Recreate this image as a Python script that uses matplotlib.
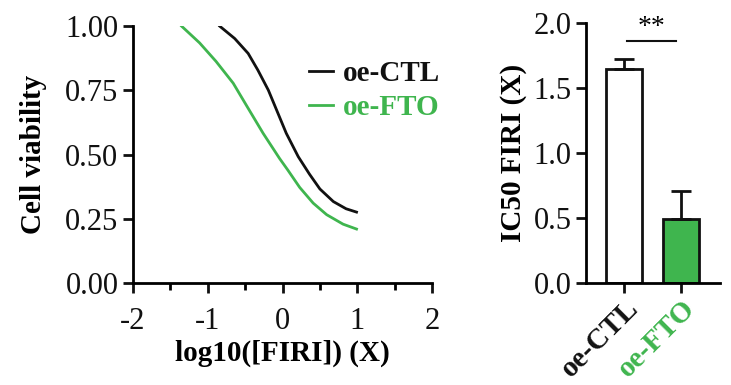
import matplotlib.pyplot as plt

plt.rcParams['font.family'] = ['Liberation Serif', 'DejaVu Serif']

# curve values
ctl_x = [-0.84, -0.64, -0.46, -0.33, -0.19, -0.08, 0.05, 0.21, 0.36, 0.50, 0.68, 0.85, 0.99]
ctl_y = [1.00, 0.952, 0.894, 0.829, 0.751, 0.674, 0.583, 0.492, 0.424, 0.366, 0.317, 0.289, 0.276]
fto_x = [-1.35, -1.11, -0.89, -0.66, -0.48, -0.26, -0.04, 0.07, 0.23, 0.41, 0.59, 0.81, 0.99]
fto_y = [1.00, 0.935, 0.863, 0.778, 0.690, 0.583, 0.485, 0.440, 0.372, 0.311, 0.266, 0.229, 0.210]

# IC50 bars
groups = ['oe-CTL', 'oe-FTO']
ic50 = [1.65, 0.495]
ic50_err = [0.07, 0.215]

green = '#3fb54e'
black = '#111111'

fig = plt.figure(figsize=(7.31, 3.85), dpi=100)

# left: viability curves
ax1 = fig.add_axes([0.182, 0.265, 0.409, 0.667])
ax1.plot(ctl_x, ctl_y, color=black, lw=2, label='oe-CTL')
ax1.plot(fto_x, fto_y, color=green, lw=2, label='oe-FTO')
ax1.set_xlim(-2, 2)
ax1.set_ylim(0, 1)
ax1.set_xticks([-2, -1, 0, 1, 2])
ax1.set_xticklabels(['-2', '-1', '0', '1', '2'])
ax1.set_xticks([-1.5, -0.5, 0.5, 1.5], minor=True)
ax1.set_yticks([0, 0.25, 0.5, 0.75, 1.0])
ax1.set_yticklabels(['0.00', '0.25', '0.50', '0.75', '1.00'])
ax1.set_xlabel('log10([FIRI]) (X)', fontsize=21, fontweight='bold', labelpad=3)
ax1.set_ylabel('Cell viability', fontsize=21, fontweight='bold', labelpad=13)
leg = ax1.legend(loc='upper right', bbox_to_anchor=(1.115, 0.97), frameon=False,
                 handlelength=0.8, handletextpad=0.35, labelspacing=0.25,
                 prop={'weight': 'bold', 'size': 21})
for txt, c in zip(leg.get_texts(), [black, green]):
    txt.set_color(c)

# right: IC50 bars
ax2 = fig.add_axes([0.802, 0.265, 0.183, 0.675])
ax2.bar([0, 1], ic50, width=0.63, color=['white', green], edgecolor=black, linewidth=2)
ax2.errorbar([0, 1], ic50, yerr=[[0, 0], ic50_err], fmt='none', ecolor=black,
             elinewidth=2, capsize=7, capthick=2)
ax2.plot([0.05, 0.9], [1.86, 1.86], color=black, lw=1.5)
ax2.text(0.475, 1.87, '**', ha='center', va='bottom', fontsize=20)
ax2.set_xlim(-0.67, 1.68)
ax2.set_ylim(0, 2)
ax2.set_yticks([0, 0.5, 1.0, 1.5, 2.0])
ax2.set_yticklabels(['0.0', '0.5', '1.0', '1.5', '2.0'])
ax2.set_xticks([0, 1])
ax2.set_xticklabels(groups, rotation=45, ha='right', rotation_mode='anchor',
                    fontweight='bold')
ax2.set_ylabel('IC50 FIRI (X)', fontsize=21, fontweight='bold', labelpad=5)

for ax in (ax1, ax2):
    for side in ('top', 'right'):
        ax.spines[side].set_visible(False)
    for side in ('left', 'bottom'):
        ax.spines[side].set_linewidth(2)
    ax.tick_params(which='major', direction='out', length=7, width=2,
                   labelsize=22, colors=black)
    ax.tick_params(which='minor', direction='out', length=5, width=2)

ax1.tick_params(axis='x', which='major', pad=10)
ax2.tick_params(axis='x', labelsize=21, pad=1.5)
for lab, c in zip(ax2.get_xticklabels(), [black, green]):
    lab.set_color(c)

fig.savefig('out.png', dpi=100)
